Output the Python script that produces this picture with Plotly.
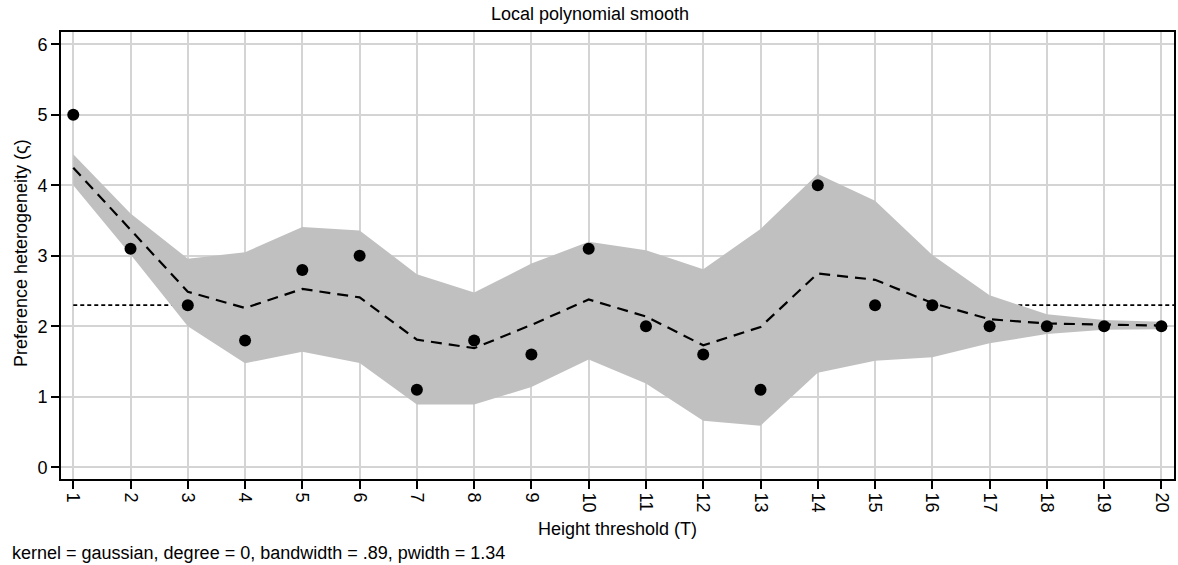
import plotly.graph_objects as go

# ---- data ----
thresholds = list(range(1, 21))
observed = [5.0, 3.1, 2.3, 1.8, 2.8, 3.0, 1.1, 1.8, 1.6, 3.1,
            2.0, 1.6, 1.1, 4.0, 2.3, 2.3, 2.0, 2.0, 2.0, 2.0]
smooth = [4.25, 3.37, 2.49, 2.26, 2.53, 2.41, 1.81, 1.69, 2.02, 2.38,
          2.14, 1.73, 1.99, 2.75, 2.66, 2.33, 2.10, 2.04, 2.02, 2.01]
ci_upper = [4.44, 3.60, 2.96, 3.05, 3.41, 3.36, 2.74, 2.48, 2.89, 3.20,
            3.08, 2.81, 3.38, 4.16, 3.78, 3.01, 2.44, 2.17, 2.09, 2.065]
ci_lower = [4.00, 3.02, 2.00, 1.475, 1.64, 1.48, 0.89, 0.89, 1.14, 1.53,
            1.19, 0.66, 0.59, 1.34, 1.51, 1.56, 1.76, 1.89, 1.95, 1.96]
mean_line = 2.3
y_ticks = [0, 1, 2, 3, 4, 5, 6]

title_text = "Local polynomial smooth"
x_title = "Height threshold (T)"
y_title = "Preference heterogeneity (ς)"
note_text = "kernel = gaussian, degree = 0, bandwidth = .89, pwidth = 1.34"

x_range = [0.786, 20.22]
y_range = [-0.166, 6.175]

FONT = "Liberation Sans, Arial, sans-serif"

fig = go.Figure()

# reference (mean) dotted line, drawn beneath the band
fig.add_trace(go.Scatter(
    x=[thresholds[0], x_range[1]], y=[mean_line, mean_line],
    mode="lines", line=dict(color="black", width=1.6, dash="4px,3px"),
    hoverinfo="skip", showlegend=False))

# confidence band
fig.add_trace(go.Scatter(
    x=thresholds + thresholds[::-1],
    y=ci_upper + ci_lower[::-1],
    mode="lines", fill="toself", fillcolor="#c0c0c0",
    line=dict(width=0, color="#c0c0c0"),
    hoverinfo="skip", showlegend=False))

# smooth
fig.add_trace(go.Scatter(
    x=thresholds, y=smooth, mode="lines",
    line=dict(color="black", width=2.2, dash="11px,7px"),
    showlegend=False))

# observed points
fig.add_trace(go.Scatter(
    x=thresholds, y=observed, mode="markers",
    marker=dict(color="black", size=12),
    showlegend=False))

axis_common = dict(
    showline=True, linecolor="black", linewidth=2, mirror=True,
    ticks="outside", ticklen=8, tickwidth=2, tickcolor="black",
    showgrid=True, gridcolor="#d4d4d4", gridwidth=1.7,
    zeroline=False,
    tickfont=dict(family=FONT, size=18, color="black"),
)

fig.update_xaxes(range=x_range, tickmode="array", tickvals=thresholds,
                 ticktext=[str(t) for t in thresholds], tickangle=90,
                 **axis_common)
fig.update_yaxes(range=y_range, tickmode="array", tickvals=y_ticks,
                 ticktext=[str(t) for t in y_ticks], **axis_common)

L, R, T, B = 61, 2, 32, 86
W, H = 1178, 565
pw = W - L - R
ph = H - T - B


def px(xp):
    return (xp - L) / pw


def py(yp):
    return (H - B - yp) / ph


fig.update_layout(
    width=W, height=H,
    margin=dict(l=L, r=R, t=T, b=B),
    plot_bgcolor="white", paper_bgcolor="white",
    font=dict(family=FONT, size=18, color="black"),
    annotations=[
        dict(text=title_text, x=px(591), y=py(14), xref="paper", yref="paper",
             showarrow=False, xanchor="center", yanchor="middle",
             font=dict(family=FONT, size=18, color="black")),
        dict(text=x_title, x=0.5, y=py(529), xref="paper", yref="paper",
             showarrow=False, xanchor="center", yanchor="middle",
             font=dict(family=FONT, size=18, color="black")),
        dict(text=y_title, x=px(21), y=py(253), xref="paper", yref="paper",
             showarrow=False, xanchor="center", yanchor="middle",
             textangle=-90,
             font=dict(family=FONT, size=18, color="black")),
        dict(text=note_text, x=px(10), y=py(553), xref="paper", yref="paper",
             showarrow=False, xanchor="left", yanchor="middle",
             font=dict(family=FONT, size=18, color="black")),
    ],
)

fig.write_html(
    "out.html",
    config={"displayModeBar": False},
    post_script="document.body.style.margin='0';"
                "document.body.style.overflow='hidden';",
)
